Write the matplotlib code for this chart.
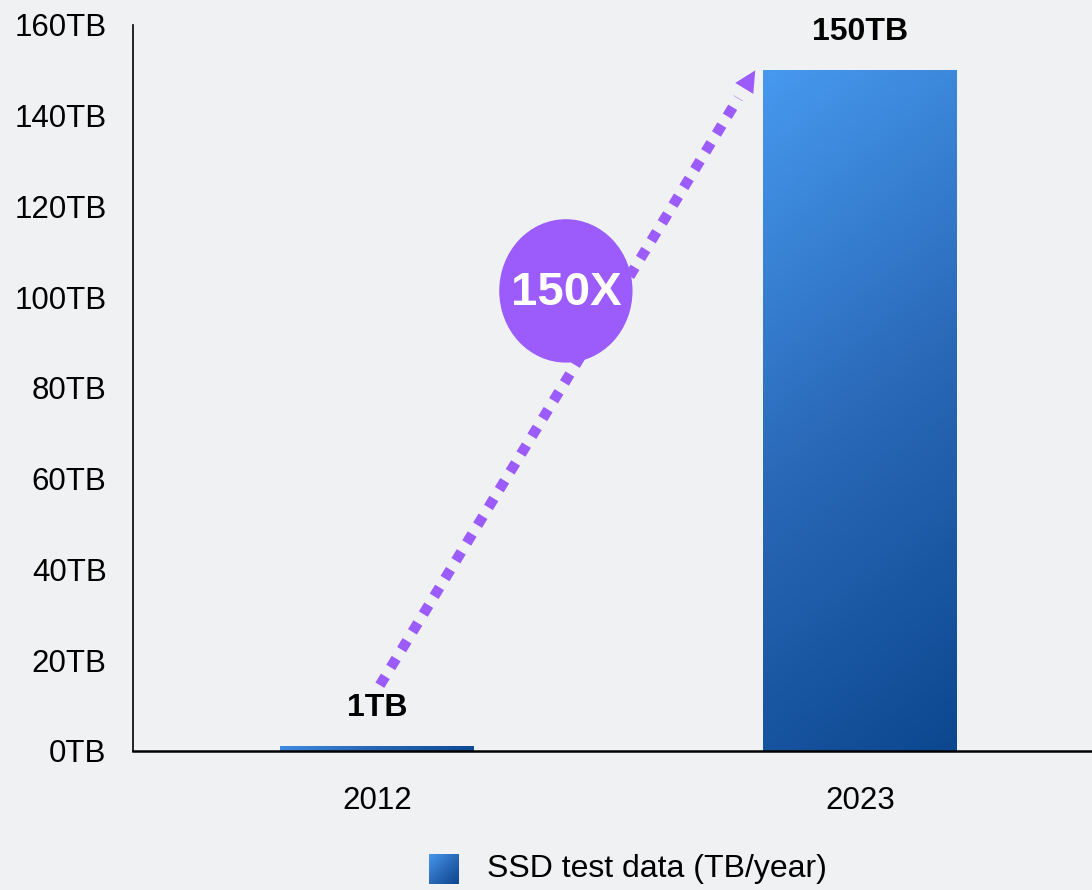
import numpy as np
import matplotlib
matplotlib.use("Agg")
import matplotlib.pyplot as plt
from matplotlib.colors import LinearSegmentedColormap
from matplotlib.patches import Ellipse

# data
years = ["2012", "2023"]
test_data_tb = [1, 150]
value_labels = ["1TB", "150TB"]
growth_label = "150X"
legend_label = "SSD test data (TB/year)"
yticks = [0, 20, 40, 60, 80, 100, 120, 140, 160]

plt.rcParams["font.family"] = ["Liberation Sans", "DejaVu Sans"]

bg = "#f0f1f2"
purple = "#9b5cfb"
blue_cmap = LinearSegmentedColormap.from_list("ssd", ["#4699ef", "#2a69b8", "#0c4790"])

fig = plt.figure(figsize=(10.92, 8.9), dpi=100, facecolor=bg)
ax = fig.add_axes([133 / 1092, 139 / 890, 1 - 133 / 1092, 726 / 890])
ax.set_facecolor("none")

x = np.arange(len(years))
bars = ax.bar(x, test_data_tb, width=0.4, color="none", edgecolor="none", zorder=2)

# gradient fill for each bar (light top-left -> dark bottom-right)
u = np.linspace(0, 1, 200)[None, :]
v = np.linspace(0, 1, 200)[:, None]
grad = 0.18 * u + 0.82 * v
for b in bars:
    bx, by = b.get_x(), b.get_y()
    bw, bh = b.get_width(), b.get_height()
    g = grad if bh > 10 else np.repeat(0.15 + 0.8 * u, 200, axis=0)
    im = ax.imshow(g, cmap=blue_cmap, vmin=0, vmax=1, aspect="auto", origin="upper",
                   extent=[bx, bx + bw, by, by + bh], zorder=2)
    im.set_clip_path(b)

for xi, val, lab in zip(x, test_data_tb, value_labels):
    ax.annotate(lab, (xi, val), xytext=(0, 17), textcoords="offset points",
                ha="center", va="bottom", fontsize=23, fontweight="bold")

ax.set_xlim(-0.505, 1.48)
ax.set_ylim(0, 160)
ax.set_yticks(yticks)
ax.set_yticklabels([f"{t}TB" for t in yticks])
ax.set_xticks(x)
ax.set_xticklabels(years)
ax.tick_params(axis="y", length=0, pad=19, labelsize=22.5)
ax.tick_params(axis="x", length=0, pad=25, labelsize=22.5)
for s in ["top", "right"]:
    ax.spines[s].set_visible(False)
ax.spines["left"].set_linewidth(1.2)
ax.spines["bottom"].set_linewidth(1.8)

# growth arrow from the 2012 value up to the 2023 bar top
x0, y0 = x[0] + 0.006, test_data_tb[0] + 13.5
x1, y1 = x[1] - 0.217, test_data_tb[1]
frac = 0.955
ax.plot([x0, x0 + (x1 - x0) * frac], [y0, y0 + (y1 - y0) * frac], color=purple,
        lw=7.5, linestyle=(0, (1, 1)), solid_capstyle="butt", dash_capstyle="butt", zorder=3)
ax.annotate("", xy=(x1, y1), xytext=(x0 + (x1 - x0) * 0.94, y0 + (y1 - y0) * 0.94),
            arrowprops=dict(arrowstyle="-|>", color=purple, lw=0, mutation_scale=38,
                            shrinkA=0, shrinkB=0), zorder=3)

ax.add_patch(Ellipse((0.391, 101.4), 0.273, 31.3, color=purple, zorder=4))
ax.text(0.391, 101.0, growth_label, ha="center", va="center", color="white",
        fontsize=34, fontweight="bold", zorder=5)

# legend
lax = fig.add_axes([429 / 1092, 6 / 890, 30 / 1092, 30 / 890])
lax.imshow(0.5 * u + 0.5 * v, cmap=blue_cmap, vmin=0, vmax=1, aspect="auto")
lax.axis("off")
fig.text(487 / 1092, 21 / 890, legend_label, ha="left", va="center", fontsize=23)

plt.savefig("out.png", dpi=100, facecolor=bg)
